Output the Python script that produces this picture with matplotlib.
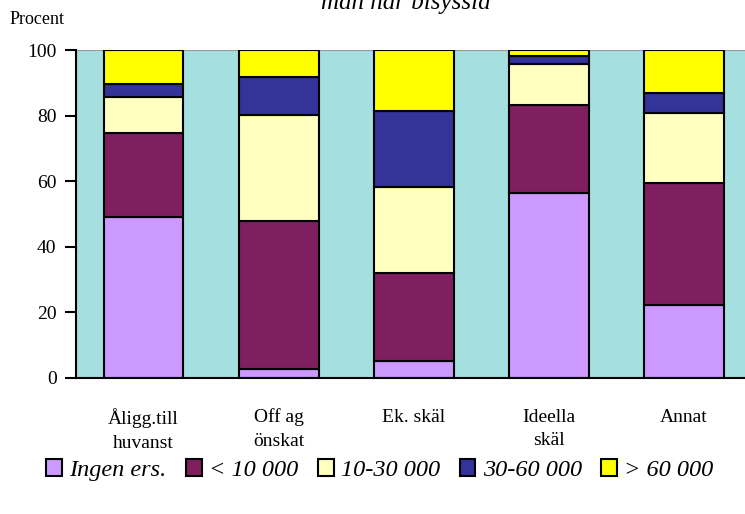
import numpy as np
import matplotlib.pyplot as plt

plt.rcParams["font.family"] = ["Liberation Serif", "DejaVu Serif"]

# Data
categories = ["Åligg.till\nhuvanst", "Off ag\nönskat", "Ek. skäl", "Ideella\nskäl", "Annat"]
series_names = ["Ingen ers.", "< 10 000", "10-30 000", "30-60 000", "> 60 000"]
ingen = [49.2, 2.7, 5.2, 56.5, 22.3]
under_10 = [25.6, 45.2, 26.9, 26.7, 37.2]
t10_30 = [11.0, 32.3, 26.2, 12.4, 21.4]
t30_60 = [3.7, 11.7, 23.2, 2.6, 6.1]
over_60 = [10.5, 8.1, 18.5, 1.8, 13.0]

series = [ingen, under_10, t10_30, t30_60, over_60]
colors = ["#CC99FF", "#7F1F5F", "#FFFFC0", "#333399", "#FFFF00"]

fig = plt.figure(figsize=(7.45, 5.14), dpi=100)
ax = fig.add_axes([0.102, 0.2646, 0.907, 0.638])
ax.set_facecolor("#A5DFDF")

x = np.arange(len(categories))
bottom = np.zeros(len(categories))
handles = []
for vals, col, name in zip(series, colors, series_names):
    b = ax.bar(x, vals, 0.59, bottom=bottom, color=col, edgecolor="black",
               linewidth=1.5, label=name)
    handles.append(b)
    bottom += np.array(vals)

ax.set_xlim(-0.5, len(categories) - 0.5)
ax.set_ylim(0, 100)
ax.set_yticks(range(0, 101, 20))
ax.tick_params(axis="y", direction="out", length=8, width=1.5, labelsize=14, pad=6)
ax.tick_params(axis="x", length=0, labelsize=14, pad=22)
ax.set_xticks(x)
ax.set_xticklabels(categories, linespacing=1.5)

for s in ["top", "right"]:
    ax.spines[s].set_visible(False)
ax.spines["left"].set_linewidth(1.5)
ax.spines["bottom"].set_linewidth(1.5)
ax.axhline(100, color="#999999", linewidth=1.5, zorder=0)

fig.text(0.013, 0.962, "Procent", fontsize=13, ha="left", va="center")
fig.text(0.545, 0.995, "man har bisyssla", fontsize=18, style="italic",
         ha="center", va="center")

fig.legend(handles=handles, labels=series_names, loc="center",
           bbox_to_anchor=(0.51, 0.085), ncol=5, frameon=False,
           prop={"style": "italic", "size": 17.5},
           handlelength=0.65, handleheight=0.65, handletextpad=0.3,
           columnspacing=0.8, borderaxespad=0)

fig.savefig("out.png", dpi=100)
